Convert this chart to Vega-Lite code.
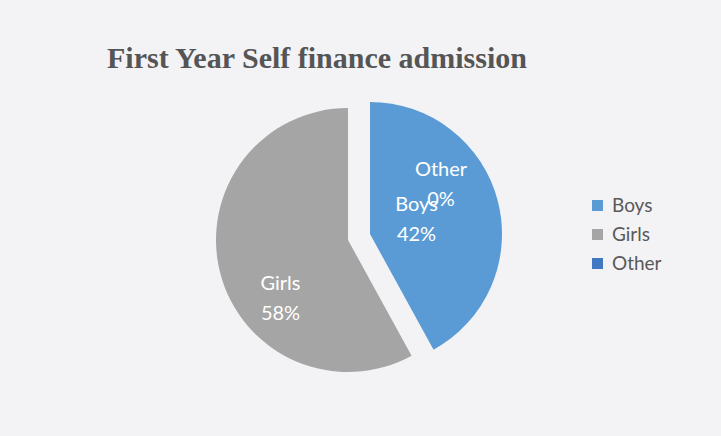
{
  "$schema": "https://vega.github.io/schema/vega-lite/v6.json",
  "width": 696,
  "height": 290,
  "autosize": {"type": "none"},
  "padding": {"left": 0, "top": 95, "right": 25, "bottom": 51},
  "background": "#f3f3f5",
  "title": {
    "text": "First Year Self finance admission",
    "anchor": "start",
    "frame": "group",
    "dx": 107,
    "offset": -3,
    "baseline": "alphabetic",
    "font": "Liberation Serif",
    "fontSize": 30,
    "fontWeight": "bold",
    "color": "#555555"
  },
  "config": {"view": {"stroke": null}},
  "data": {
    "values": [
      {"category": "Boys", "value": 42, "label": "Boys\n42%"},
      {"category": "Girls", "value": 58, "label": "Girls\n58%"},
      {"category": "Other", "value": 0, "label": "Other\n0%"}
    ]
  },
  "transform": [
    {"stack": "value", "groupby": [], "sort": [{"field": "category", "order": "ascending"}], "as": ["v0", "v1"]}
  ],
  "layer": [
    {
      "transform": [{"filter": {"field": "category", "oneOf": ["Girls", "Other"]}}],
      "mark": {"type": "arc", "outerRadius": 132},
      "encoding": {
        "theta": {"field": "v0", "type": "quantitative"},
        "theta2": {"field": "v1"},
        "color": {
          "field": "category",
          "type": "nominal",
          "scale": {"domain": ["Boys", "Girls", "Other"], "range": ["#5b9bd5", "#a5a5a5", "#4178c2"]},
          "legend": {
            "title": null,
            "orient": "none",
            "legendX": 588,
            "legendY": 101,
            "padding": 0,
            "symbolType": "square",
            "symbolSize": 121,
            "symbolStrokeWidth": 0,
            "labelFont": "Lato",
            "labelFontSize": 19,
            "labelColor": "#595959",
            "labelOffset": 5,
            "rowPadding": 9
          }
        }
      }
    },
    {
      "transform": [{"filter": {"field": "category", "equal": "Boys"}}],
      "mark": {"type": "arc", "outerRadius": 132, "xOffset": 22, "yOffset": -6},
      "encoding": {
        "theta": {"field": "v0", "type": "quantitative"},
        "theta2": {"field": "v1"},
        "color": {"field": "category", "type": "nominal"}
      }
    },
    {
      "mark": {"type": "text", "color": "#ffffff", "font": "Lato", "fontSize": 20, "lineBreak": "\n", "lineHeight": 30, "baseline": "middle", "align": "center", "dx": 22, "dy": -23},
      "encoding": {
        "theta": {"field": "value", "type": "quantitative", "stack": true},
        "order": {"field": "category", "type": "nominal", "sort": "ascending"},
        "detail": {"field": "category", "type": "nominal"},
        "radius": {"value": 48},
        "text": {"field": "label"},
        "opacity": {"condition": {"test": "datum.category == 'Boys'", "value": 1}, "value": 0}
      }
    },
    {
      "mark": {"type": "text", "color": "#ffffff", "font": "Lato", "fontSize": 20, "lineBreak": "\n", "lineHeight": 30, "baseline": "middle", "align": "center", "dx": 10, "dy": 24},
      "encoding": {
        "theta": {"field": "value", "type": "quantitative", "stack": true},
        "order": {"field": "category", "type": "nominal", "sort": "ascending"},
        "detail": {"field": "category", "type": "nominal"},
        "radius": {"value": 80},
        "text": {"field": "label"},
        "opacity": {"condition": {"test": "datum.category == 'Girls'", "value": 1}, "value": 0}
      }
    },
    {
      "mark": {"type": "text", "color": "#ffffff", "font": "Lato", "fontSize": 20, "lineBreak": "\n", "lineHeight": 30, "baseline": "middle", "align": "center", "dx": 93, "dy": -14},
      "encoding": {
        "theta": {"field": "value", "type": "quantitative", "stack": true},
        "order": {"field": "category", "type": "nominal", "sort": "ascending"},
        "detail": {"field": "category", "type": "nominal"},
        "radius": {"value": 56},
        "text": {"field": "label"},
        "opacity": {"condition": {"test": "datum.category == 'Other'", "value": 1}, "value": 0}
      }
    }
  ]
}
